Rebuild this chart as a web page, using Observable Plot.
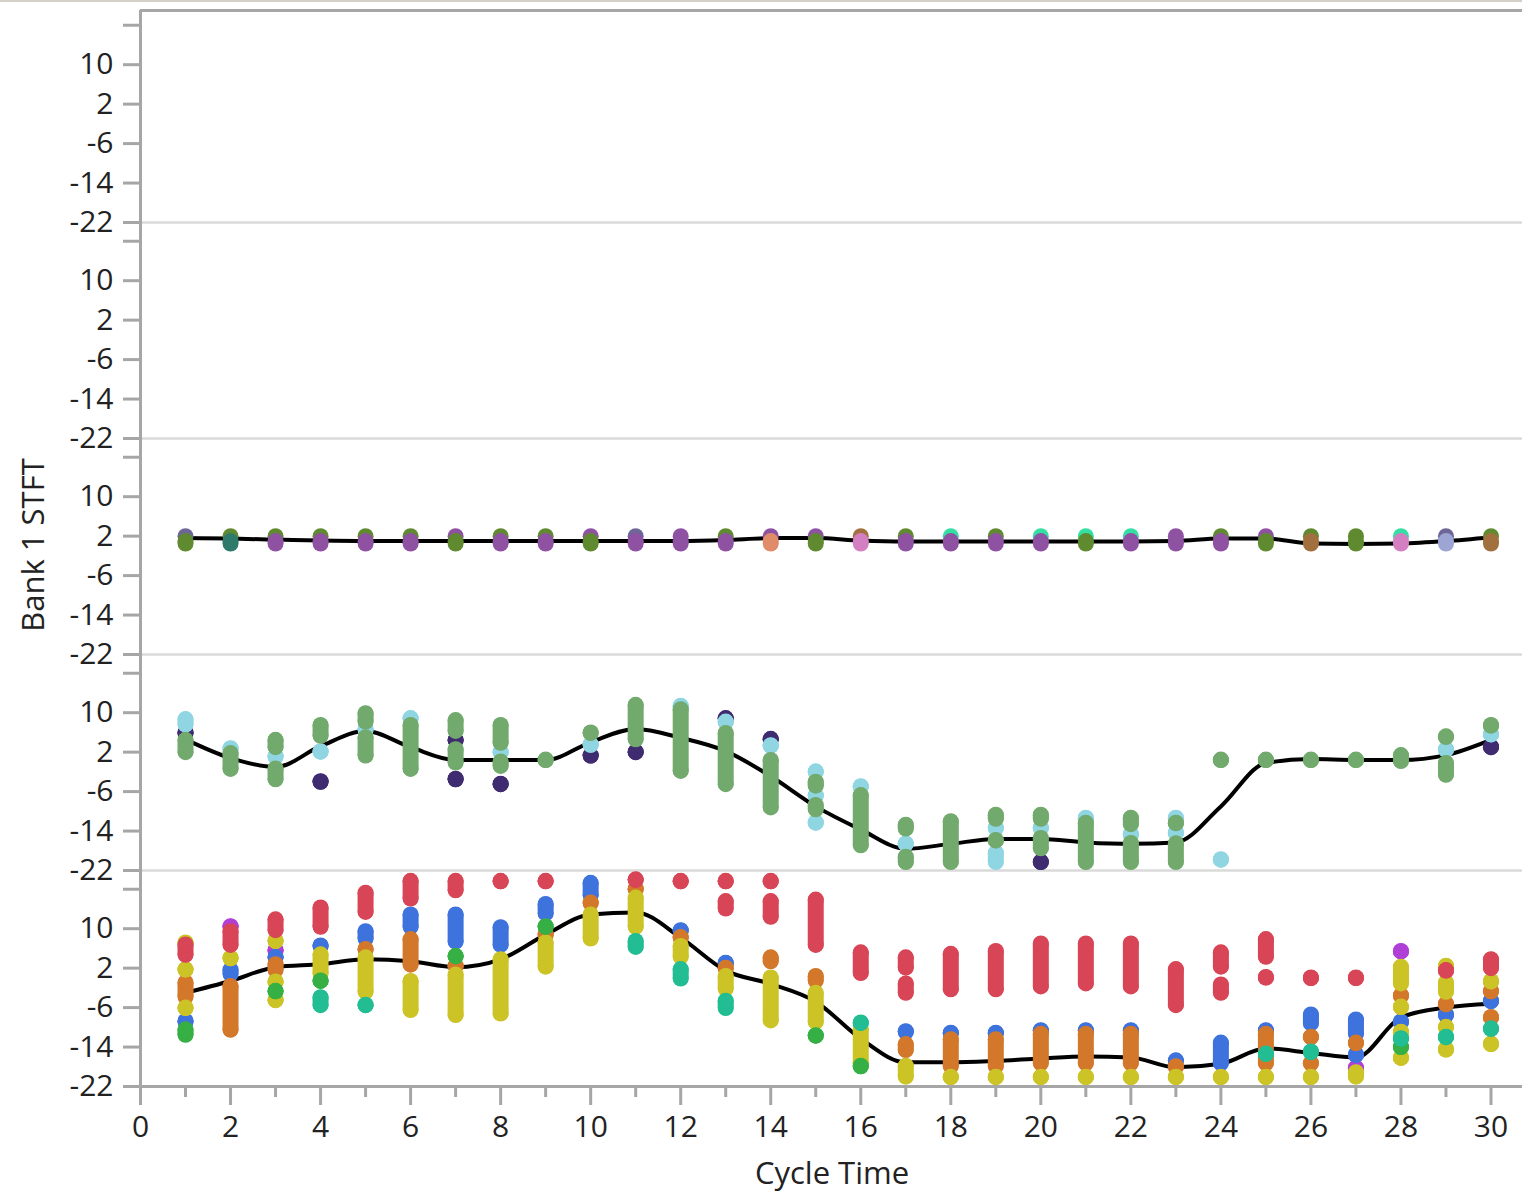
<!DOCTYPE html>
<html>
<head>
<meta charset="utf-8">
<script src="https://cdn.jsdelivr.net/npm/d3@7"></script>
<script src="https://cdn.jsdelivr.net/npm/@observablehq/plot@0.6"></script>
<style>
  body { margin: 0; background: #fff; }
  #wrap { position: relative; width: 1522px; height: 1192px; overflow: hidden; font-family: 'Open Sans', sans-serif; }
  #chart { position: absolute; left: 0; top: 0; }
  .topline { position: absolute; left: 0; top: 0; width: 1522px; height: 2px; background: #d4d0c8; }
  .ylab { position: absolute; left: 32px; top: 545px; transform: translate(-50%, -50%) rotate(-90deg); font-size: 31px; line-height: 1; color: #222; white-space: nowrap; }
  .xlab { position: absolute; left: 832px; top: 1172px; transform: translate(-50%, -50%); font-size: 31px; line-height: 1; color: #222; white-space: nowrap; }
</style>
</head>
<body>
<div id="wrap">
  <div id="chart"></div>
  <div class="topline"></div>
  <div class="ylab">Bank 1 STFT</div>
  <div class="xlab">Cycle Time</div>
</div>
<script>
// ---------- categories / ticks ----------
const panels = ["1", "2", "3", "4", "5"];
const cycleTime = [1,2,3,4,5,6,7,8,9,10,11,12,13,14,15,16,17,18,19,20,21,22,23,24,25,26,27,28,29,30];
const yTicks = [-22, -14, -6, 2, 10, 18];
const xMajorTicks = [0,2,4,6,8,10,12,14,16,18,20,22,24,26,28,30];
const xMinorTicks = [1,3,5,7,9,11,13,15,17,19,21,23,25,27,29];
const yDomain = [-22, 21.8];
const xDomain = [0, 30.7];
const frameTopValue = 21.0;

// ---------- smooth (black) lines ----------
const line3 = [1.6,1.5,1.3,1.1,1.0,1.0,1.0,1.0,1.0,1.0,1.0,1.0,1.2,1.6,1.6,1.1,0.9,0.9,0.9,0.9,0.9,0.9,1.0,1.5,1.5,0.5,0.4,0.5,1.0,1.8];
const line4 = [4.6,0.8,-1.0,3.2,6.3,3.0,0.4,0.4,0.4,4.0,6.7,4.9,2.2,-2.9,-9.0,-13.7,-17.6,-16.6,-15.6,-15.6,-16.3,-16.6,-16.3,-9.0,-0.2,0.6,0.4,0.4,1.4,4.5];
const line5 = [-3.0,-0.6,2.2,2.8,3.8,3.4,2.2,3.8,8.8,12.9,13.3,8.2,1.5,-1.2,-4.8,-12.3,-17.1,-17.1,-16.8,-16.3,-15.9,-16.1,-18.1,-17.4,-14.3,-15.2,-16.1,-8.0,-6.0,-5.2];

// ---------- panel 3 points: [cycle, low, high] ----------
const p3Violet   = [[3,0.5,1.0],[4,0.5,1.0],[5,0.5,1.0],[6,0.5,1.0],[8,0.5,1.0],[9,0.5,1.0],[10,2.0],[11,0.5,1.0],[12,2.0],[12,0.5,1.0],[13,0.5,1.0],[14,2.0],[15,2.0],[17,0.5,1.0],[18,0.5,1.0],[19,0.5,1.0],[20,0.5,1.0],[22,0.5,1.0],[23,2.0],[23,0.5,1.0],[24,0.5,1.0],[25,2.0],[7,2.0]];
const p3Olive    = [[1,0.5,1.0],[2,2.0],[3,2.0],[4,2.0],[5,2.0],[6,2.0],[7,0.5,1.0],[8,2.0],[9,2.0],[10,0.5,1.0],[13,2.0],[15,0.5,1.0],[17,2.0],[19,2.0],[21,0.5,1.0],[24,2.0],[25,0.5,1.0],[26,2.0],[27,2.0],[27,0.5,1.0],[30,2.0]];
const p3Slate    = [[1,2.0],[11,2.0],[29,2.0]];
const p3TealDark = [[2,0.5,1.0]];
const p3Mint     = [[18,2.0],[20,2.0],[21,2.0],[22,2.0],[28,2.0]];
const p3Salmon   = [[14,0.5,1.0]];
const p3Pink     = [[16,0.5,1.0],[28,0.5,1.0]];
const p3Brown    = [[16,2.0],[26,0.5,1.0],[30,0.5,1.0]];
const p3Lavender = [[29,0.5,1.0]];

// ---------- panel 4 points ----------
const p4Purple = [[1,5.9],[4,-4.0],[7,4.4],[7,-3.5],[8,-4.5],[10,1.3],[11,2.0],[13,8.8],[14,4.6],[20,-20.3],[30,3.0]];
const p4Cyan   = [[1,7.6,8.6],[2,2.7],[3,1.1],[4,2.1],[5,6.6],[6,8.8],[8,2.0],[10,3.5],[12,11.3],[13,8.1],[14,3.3],[15,-2.0],[15,-6.8],[15,-12.3],[16,-5.0],[17,-16.6],[19,-13.4],[19,-20.3,-18.5],[20,-13.4],[21,-11.4],[22,-14.7],[23,-11.4],[23,-14.4],[24,-19.8],[29,2.5],[30,5.6]];
const p4Green  = [[1,2.0,4.4],[2,-1.4,1.7],[3,3.0,4.4],[3,-3.5,-1.4],[4,5.3,7.4],[5,8.2,9.8],[5,1.3,4.9],[6,-1.4,7.4],[7,6.3,8.4],[7,-0.1,2.5],[8,3.9,7.4],[8,-0.8,0.0],[9,0.4],[10,5.9],[11,4.6,11.5],[12,-1.8,10.6],[13,-4.5,5.8],[14,-9.2,0.3],[15,-4.8,-4.1],[15,-9.6,-8.8],[16,-16.9,-6.8],[17,-13.5,-12.8],[17,-20.3,-19.3],[18,-20.3,-12.1],[19,-11.5,-10.8],[19,-15.9],[20,-11.5,-10.8],[20,-17.5,-15.5],[21,-20.3,-12.4],[22,-12.6,-11.4],[22,-20.3,-16.5],[23,-12.4],[23,-20.3,-16.6],[24,0.4],[25,0.4],[26,0.4],[27,0.4],[28,0.2,1.3],[29,5.1],[29,-2.6,-0.3],[30,7.4]];

// ---------- panel 5 points ----------
const p5Magenta = [[2,10.4],[3,5.6],[27,-18.3],[28,5.4]];
const p5Blue    = [[1,-8.8],[2,0.8,1.6],[3,4.2],[4,6.5],[5,8.0,9.4],[6,10.4,12.8],[7,7.4,12.8],[8,6.7,10.2],[9,13.1,14.9],[10,16.8,19.2],[12,9.6],[13,3.0],[17,-10.9],[18,-11.2],[19,-11.2],[20,-10.7],[21,-10.7],[22,-10.7],[23,-16.8],[24,-17.3,-13.2],[25,-10.7],[26,-9.2,-7.5],[27,-11.3,-8.5],[27,-15.6],[28,-8.9],[29,-7.5],[30,-4.7]];
const p5Orange  = [[1,-3.8,-1.0],[2,-10.5,-1.7],[3,1.6,2.7],[5,5.8],[6,2.7,7.8],[7,2.4],[9,8.8],[10,15.2],[11,18.0],[12,8.2],[13,2.0],[14,3.4,4.1],[15,-0.5,0.3],[17,-14.6,-13.5],[18,-17.9,-12.5],[19,-17.9,-12.5],[20,-17.3,-11.4],[21,-17.3,-11.4],[22,-17.3,-11.4],[23,-18.0],[25,-17.3,-11.4],[26,-12.0],[26,-17.3],[27,-13.2],[28,-3.6],[29,-5.3],[30,-2.7],[30,-8.0]];
const p5Yellow  = [[1,7.1],[1,1.7],[1,-6.1],[2,4.0],[3,7.5],[3,-0.8],[3,-4.5],[4,0.9,4.7],[5,-2.8,4.1],[6,-6.5,-0.7],[7,-7.5,0.6],[8,-7.2,3.7],[9,2.3,7.1],[10,8.0,12.8],[11,10.4,16.2],[12,4.3,6.4],[13,-2.2,0.3],[14,-8.6,0.0],[15,-8.9,-3.1],[16,-17.3,-10.5],[17,-20.0,-17.9],[18,-20.1],[19,-20.1],[20,-20.1],[21,-20.1],[22,-20.1],[23,-20.1],[24,-20.1],[25,-20.1],[26,-20.1],[27,-20.0,-19.2],[28,-1.1,2.2],[28,-5.9],[28,-11.0],[28,-16.2],[29,2.4],[29,-2.8,-1.0],[29,-10.0],[29,-14.5],[30,-0.7],[30,-13.4]];
const p5Red     = [[1,4.7,6.7],[2,6.7,9.4],[3,9.7,11.8],[4,10.4,14.2],[5,13.4,17.2],[6,16.1,19.6],[7,17.8,19.6],[8,19.6],[9,19.6],[11,19.9],[12,19.6],[13,19.6],[13,14.1,15.5],[14,19.6],[14,12.4,15.5],[15,6.7,15.8],[16,1.0,5.1],[17,2.1,4.1],[17,-3.0,-1.2],[18,-2.3,4.8],[19,-2.3,5.4],[20,-1.7,6.9],[21,-1.1,6.9],[22,-1.7,6.9],[23,-5.5,1.7],[24,2.3,5.1],[24,-3.0,-1.4],[25,4.3,7.8],[25,0.1],[26,0.0],[27,0.0],[29,1.5],[30,2.0,3.7]];
const p5Green   = [[1,-11.5,-10.5],[3,-2.7],[4,-0.6],[7,4.4],[9,10.4],[15,-11.7],[16,-17.9],[28,-14.0]];
const p5Teal    = [[4,-5.5,-4.0],[5,-5.5],[11,6.3,7.4],[12,-0.1,1.7],[13,-6.1,-4.7],[16,-9.1],[25,-15.4],[26,-15.0],[28,-12.3],[29,-12.0],[30,-10.3]];

// ---------- colours (options for the color scale) ----------
const seriesColors = {
  p3Violet: "#8f52a3", p3Olive: "#5f8a2f", p3Slate: "#6e6698", p3TealDark: "#2e7b6c", p3Mint: "#34dfa3",
  p3Salmon: "#e08b6a", p3Pink: "#d47fc2", p3Brown: "#a2703e", p3Lavender: "#9ca5d3",
  p4Purple: "#3f2b70", p4Cyan: "#8fd6e2", p4Green: "#72aa6d",
  p5Magenta: "#b03fd8", p5Blue: "#3e72dc", p5Orange: "#d3782b", p5Yellow: "#ccc326",
  p5Red: "#d84556", p5Green: "#36b044", p5Teal: "#22bd92"
};

// ---------- build tables ----------
function seg(panel, series, list) {
  return list.map(([x, lo, hi]) => ({panel, series, x, lo, hi: hi === undefined ? lo : hi}));
}
const p3Series = {p3Violet, p3Olive, p3Slate, p3TealDark, p3Mint, p3Salmon, p3Pink, p3Brown, p3Lavender};
const p3Dots = [];
for (const [name, list] of Object.entries(p3Series)) {
  for (const r of seg("3", name, list)) {
    p3Dots.push({panel: r.panel, series: r.series, x: r.x, y: r.hi});
    if (r.lo !== r.hi) p3Dots.push({panel: r.panel, series: r.series, x: r.x, y: r.lo});
  }
}
p3Dots.sort((a, b) => b.y - a.y); // higher points sit behind lower ones

const layered = [
  ["4", "p4Purple", p4Purple], ["4", "p4Cyan", p4Cyan], ["4", "p4Green", p4Green],
  ["5", "p5Magenta", p5Magenta], ["5", "p5Blue", p5Blue], ["5", "p5Orange", p5Orange],
  ["5", "p5Yellow", p5Yellow], ["5", "p5Red", p5Red], ["5", "p5Green", p5Green], ["5", "p5Teal", p5Teal]
];

const lineRows = [];
[["3", line3], ["4", line4], ["5", line5]].forEach(([panel, vals]) => {
  vals.forEach((v, i) => lineRows.push({panel, x: cycleTime[i], y: v}));
});

const sepRows = panels.slice(0, 4).map(p => ({panel: p, y: yDomain[0]}));
const bottomRows = [{panel: panels[4], y: yDomain[0]}];
const topRows = [{panel: panels[0], y: frameTopValue}];
const panelRows = panels.map(p => ({panel: p, x: xDomain[0]}));

const R = 8;
const axisGray = "#a6a6a6";
const marks = [
  Plot.ruleY(sepRows, {fy: "panel", y: "y", stroke: "#dadada", strokeWidth: 2.5}),
  Plot.line(lineRows, {fy: "panel", x: "x", y: "y", z: "panel", curve: "monotone-x", stroke: "#000", strokeWidth: 4}),
  Plot.dot(p3Dots, {fy: "panel", x: "x", y: "y", fill: "series", r: R})
];
for (const [panel, name, list] of layered) {
  const rows = seg(panel, name, list);
  marks.push(Plot.ruleX(rows, {fy: "panel", x: "x", y1: "lo", y2: "hi", stroke: "series", strokeWidth: 2 * R, strokeLinecap: "round"}));
  marks.push(Plot.dot(rows, {fy: "panel", x: "x", y: "lo", fill: "series", r: R}));
  marks.push(Plot.dot(rows, {fy: "panel", x: "x", y: "hi", fill: "series", r: R}));
}
marks.push(
  Plot.ruleY(topRows, {fy: "panel", y: "y", stroke: axisGray, strokeWidth: 3}),
  Plot.ruleY(bottomRows, {fy: "panel", y: "y", stroke: axisGray, strokeWidth: 3}),
  Plot.ruleX(panelRows, {fy: "panel", x: "x", y1: yDomain[0], y2: (d) => d.panel === panels[0] ? frameTopValue : yDomain[1], stroke: axisGray, strokeWidth: 3}),
  Plot.axisY({ticks: yTicks, tickSize: 17, tickPadding: 10, tickFormat: d => d === 18 ? "" : String(d),
              stroke: axisGray, strokeWidth: 3, fill: "#222", label: null}),
  Plot.axisX({ticks: xMajorTicks, tickSize: 19, tickPadding: 10, tickFormat: d => String(d),
              stroke: axisGray, strokeWidth: 3, fill: "#222", label: null}),
  Plot.axisX({ticks: xMinorTicks, tickSize: 11, tickFormat: () => "",
              stroke: axisGray, strokeWidth: 3, label: null})
);

const chart = Plot.plot({
  width: 1522,
  height: 1192,
  marginTop: 5,
  marginBottom: 106,
  marginLeft: 140,
  marginRight: 0,
  style: {fontFamily: "'Open Sans', sans-serif", fontSize: "30px", color: "#222", background: "transparent", overflow: "visible"},
  x: {domain: xDomain},
  y: {domain: yDomain},
  fy: {domain: panels, padding: 0, axis: null},
  color: {domain: Object.keys(seriesColors), range: Object.values(seriesColors)},
  marks
});
document.getElementById("chart").appendChild(chart);
</script>
</body>
</html>
